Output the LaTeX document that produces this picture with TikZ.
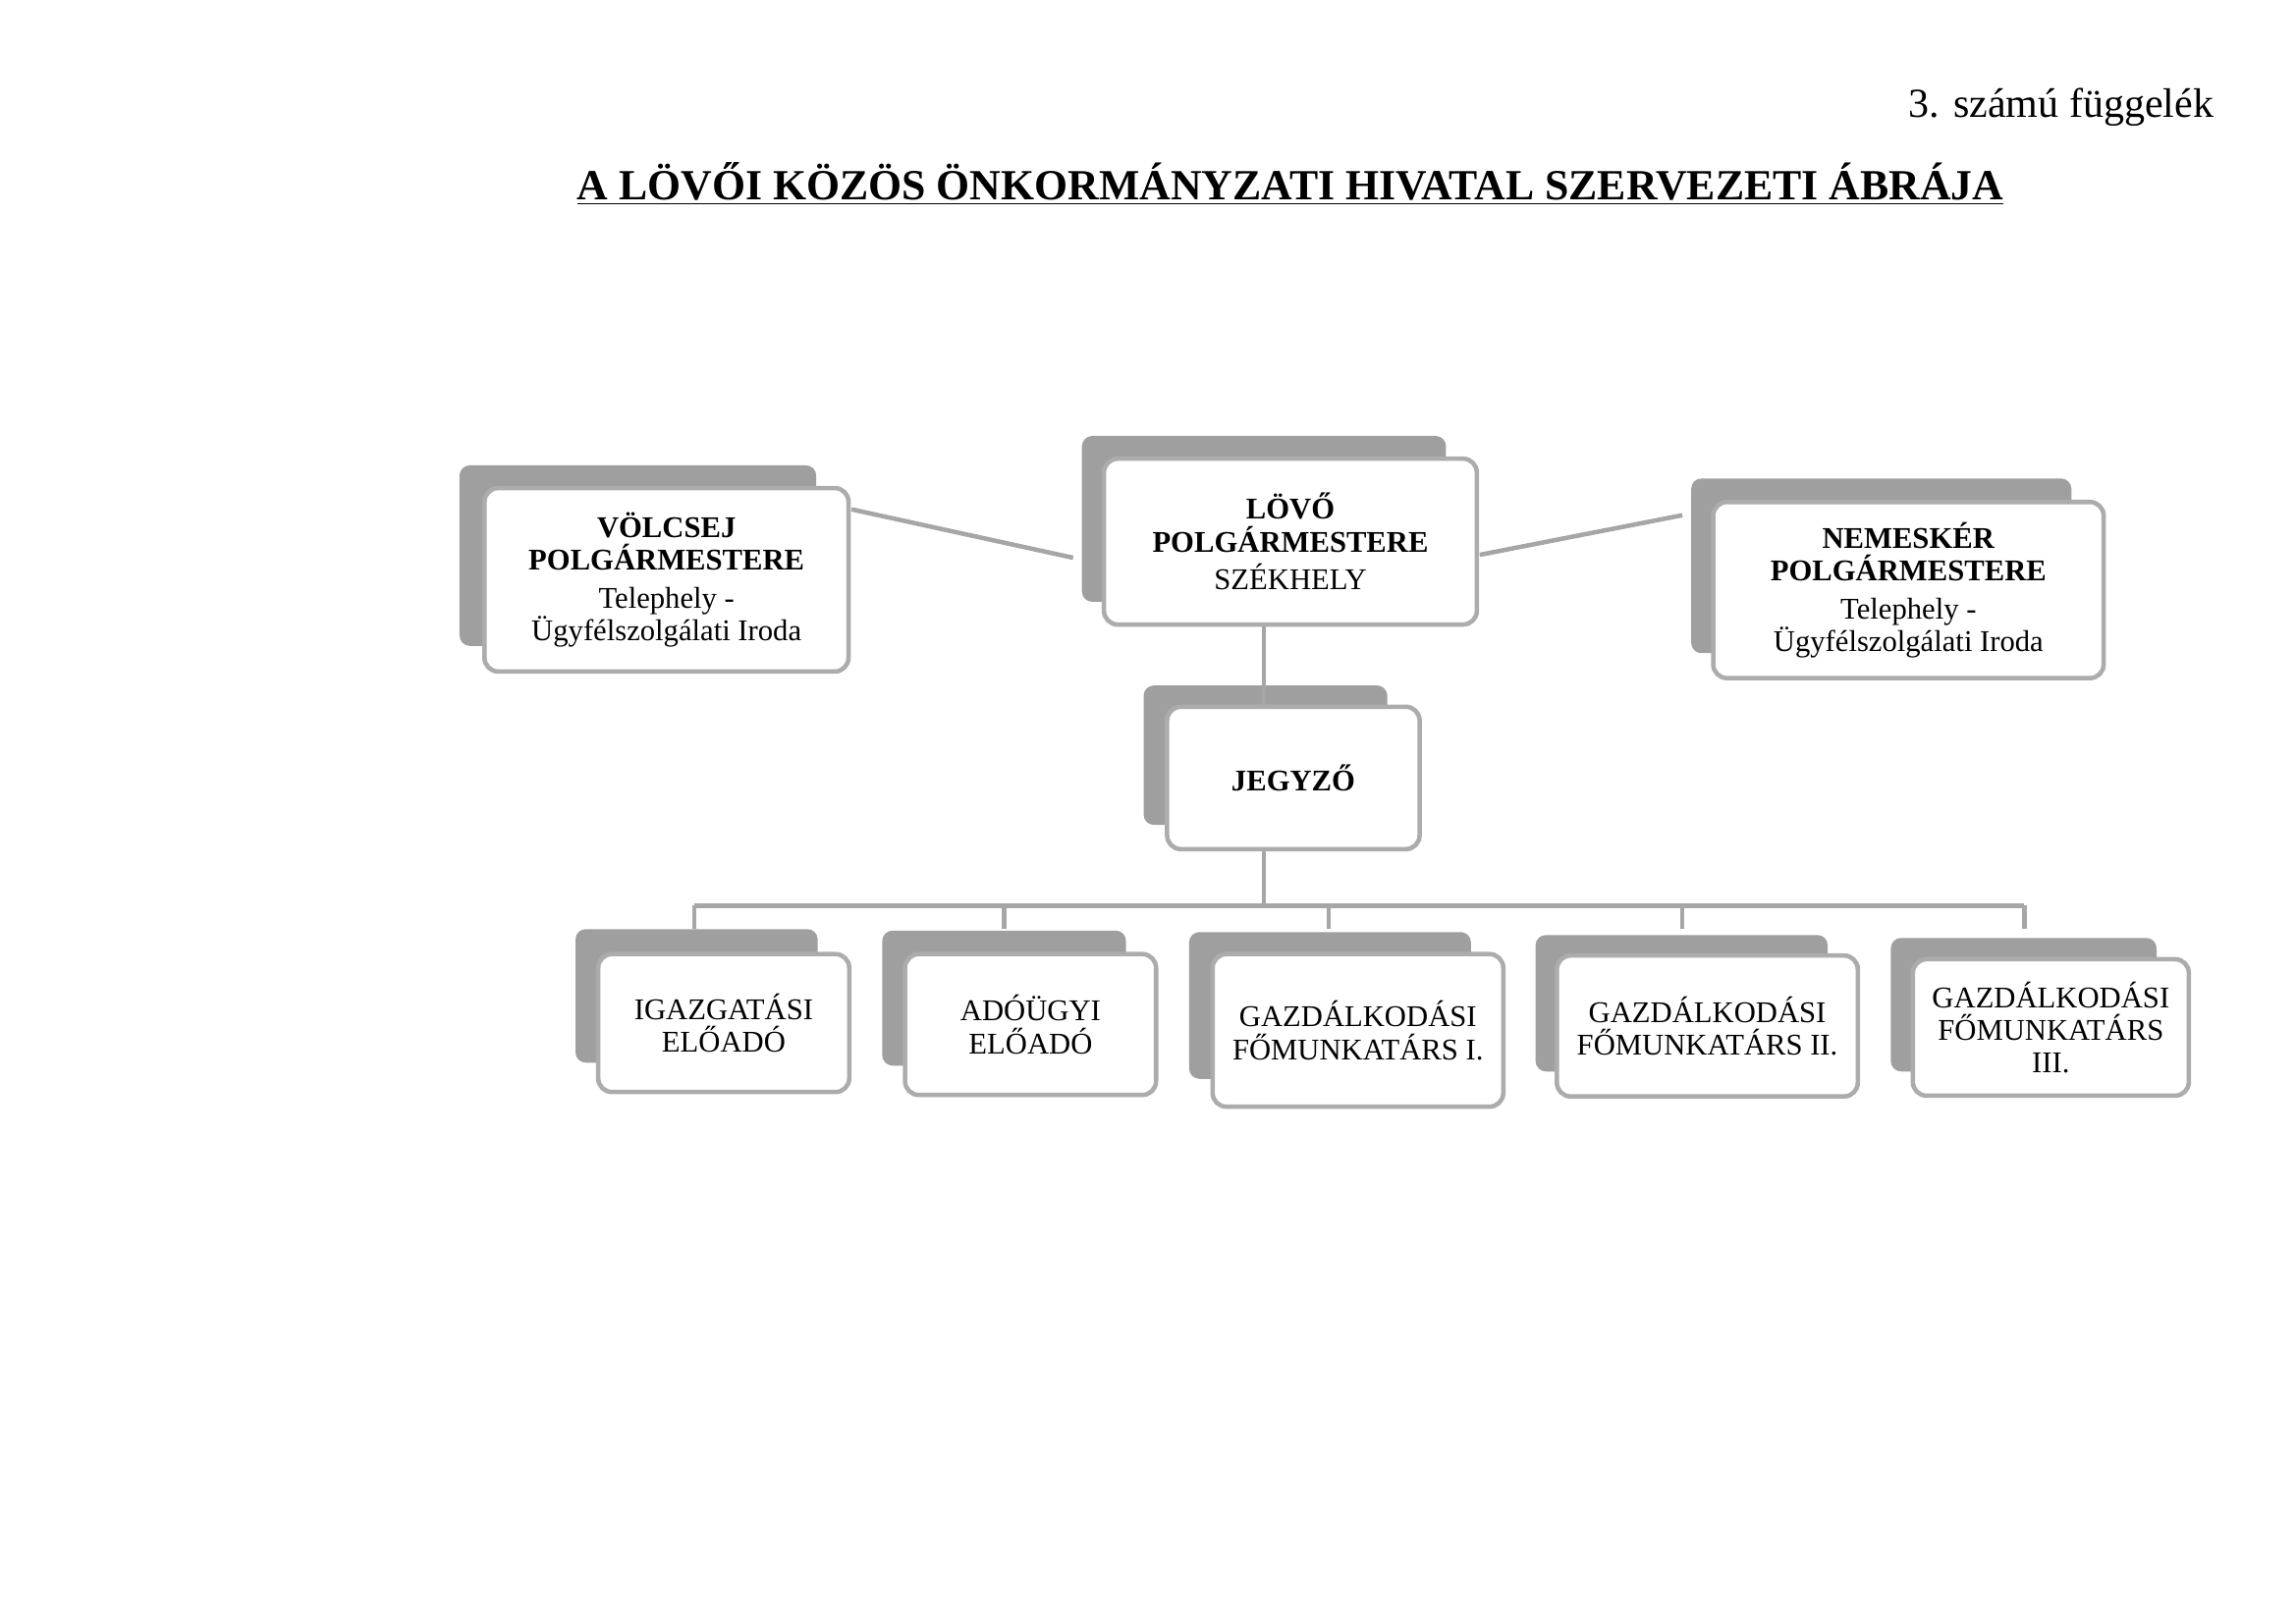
\documentclass[tikz,border=0pt]{standalone}
\usepackage{fontspec}
\setmainfont{Liberation Serif}
\begin{document}
\begin{tikzpicture}[x=0.03cm,y=-0.03cm,
 shad/.style={fill=gray!75,rounded corners=6pt},
 box/.style={draw=gray!65,line width=2.6pt,fill=white,rounded corners=8pt,align=center,font=\fontsize{17.5}{19}\selectfont,inner sep=0pt},
 ln/.style={draw=gray!70,line width=2.6pt}]
\useasboundingbox (0,0) rectangle (1564,1106);
\node[anchor=base east,font=\fontsize{24}{26}\selectfont] (fg) at (1512,80) {3. számú függelék};
\node[font=\bfseries\fontsize{25}{28}\selectfont] (ti) at (879,125) {\underline{A LÖVŐI KÖZÖS ÖNKORMÁNYZATI HIVATAL SZERVEZETI ÁBRÁJA}};
% shadows
\fill[shad] (313,317) rectangle (556,440);
\fill[shad] (737,297) rectangle (985,410);
\fill[shad] (1152,326) rectangle (1411,445);
\fill[shad] (779,467) rectangle (945,562);
\fill[shad] (392,633) rectangle (557,724);
\fill[shad] (601,634) rectangle (767,726);
\fill[shad] (810,635) rectangle (1002,735);
\fill[shad] (1046,637) rectangle (1245,730);
\fill[shad] (1288,639) rectangle (1469,730);
% front boxes
\node[box,minimum width=248*0.03cm,minimum height=125*0.03cm] (v) at (454,395) {\textbf{VÖLCSEJ}\\\textbf{POLGÁRMESTERE}\\[3pt]Telephely -\\Ügyfélszolgálati Iroda};
\node[box,minimum width=254*0.03cm,minimum height=113*0.03cm] (l) at (879,369) {\textbf{LÖVŐ}\\\textbf{POLGÁRMESTERE}\\[3pt]SZÉKHELY};
\node[box,minimum width=266*0.03cm,minimum height=120*0.03cm] (n) at (1300,402) {\textbf{NEMESKÉR}\\\textbf{POLGÁRMESTERE}\\[3pt]Telephely -\\Ügyfélszolgálati Iroda};
\node[box,minimum width=172*0.03cm,minimum height=97*0.03cm] (j) at (881,530) {\textbf{JEGYZŐ}};
\node[box,minimum width=171*0.03cm,minimum height=94*0.03cm] (b1) at (493,697) {IGAZGATÁSI\\ELŐADÓ};
\node[box,minimum width=171*0.03cm,minimum height=96*0.03cm] (b2) at (702,698) {ADÓÜGYI\\ELŐADÓ};
\node[box,minimum width=198*0.03cm,minimum height=104*0.03cm] (b3) at (925,702) {GAZDÁLKODÁSI\\FŐMUNKATÁRS I.};
\node[box,minimum width=205*0.03cm,minimum height=96*0.03cm] (b4) at (1163,699) {GAZDÁLKODÁSI\\FŐMUNKATÁRS II.};
\node[box,minimum width=188*0.03cm,minimum height=93*0.03cm] (b5) at (1397,700) {GAZDÁLKODÁSI\\FŐMUNKATÁRS\\III.};
% connectors
\coordinate (va) at (580,347); \coordinate (la) at (731,380);
\coordinate (lb) at (1008,378); \coordinate (na) at (1146,351);
\draw[ln] (va) -- (la);
\draw[ln] (lb) -- (na);
\draw[ln] (l.south -| 861,0) -- (j.north -| 861,0);
\coordinate (h) at (861,617);
\draw[ln] (j.south -| 861,0) -- (h);
\draw[ln] (473,617) -- (1379,617);
\foreach \x/\b in {473/b1,684/b2,905/b3,1146/b4,1379/b5}
  \draw[ln] (\x,617) -- (\x,633);
\end{tikzpicture}
\end{document}
